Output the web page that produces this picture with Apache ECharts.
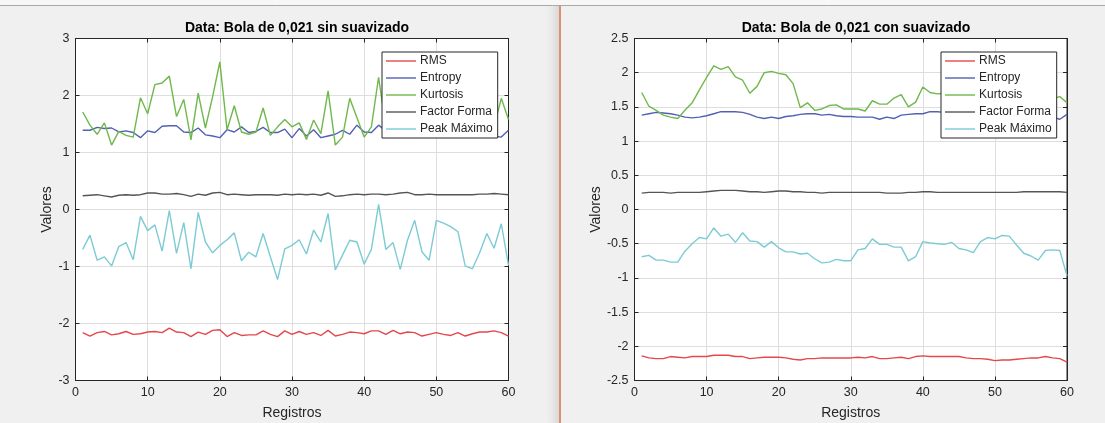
<!DOCTYPE html>
<html>
<head>
<meta charset="utf-8">
<script src="https://cdn.jsdelivr.net/npm/echarts@6/dist/echarts.min.js"></script>
<style>
html,body{margin:0;padding:0;background:#f0f0f0;}
#chart{width:1105px;height:423px;}
</style>
</head>
<body>
<div id="chart"></div>
<script>
// ---- data ----
const registros = [1,2,3,4,5,6,7,8,9,10,11,12,13,14,15,16,17,18,19,20,21,22,23,24,25,26,27,28,29,30,31,32,33,34,35,36,37,38,39,40,41,42,43,44,45,46,47,48,49,50,51,52,53,54,55,56,57,58,59,60];
const seriesNames = ['RMS','Entropy','Kurtosis','Factor Forma','Peak Máximo'];
const titleLeft = 'Data: Bola de 0,021 sin suavizado';
const titleRight = 'Data: Bola de 0,021 con suavizado';
const xName = 'Registros';
const yName = 'Valores';
const xTicks = [0,10,20,30,40,50,60];
const yTicksLeft = [-3,-2,-1,0,1,2,3];
const yTicksRight = [-2.5,-2,-1.5,-1,-0.5,0,0.5,1,1.5,2,2.5];

// sin suavizado
const rmsL = [-2.16,-2.22,-2.16,-2.14,-2.20,-2.18,-2.14,-2.19,-2.18,-2.15,
  -2.14,-2.16,-2.08,-2.15,-2.16,-2.23,-2.15,-2.19,-2.12,-2.11,
  -2.23,-2.16,-2.21,-2.20,-2.20,-2.13,-2.19,-2.23,-2.13,-2.19,
  -2.14,-2.19,-2.16,-2.21,-2.12,-2.22,-2.19,-2.15,-2.16,-2.18,
  -2.13,-2.13,-2.19,-2.12,-2.18,-2.15,-2.16,-2.22,-2.19,-2.16,
  -2.19,-2.21,-2.16,-2.22,-2.18,-2.15,-2.15,-2.13,-2.16,-2.22];
const entropyL = [1.39,1.39,1.44,1.42,1.43,1.36,1.38,1.35,1.26,1.38,
  1.35,1.46,1.47,1.47,1.36,1.35,1.43,1.31,1.29,1.26,
  1.40,1.36,1.45,1.35,1.37,1.44,1.35,1.35,1.41,1.26,
  1.42,1.29,1.40,1.26,1.29,1.32,1.39,1.32,1.48,1.36,
  1.35,1.48,1.38,1.42,1.33,1.37,1.44,1.36,1.40,1.45,
  1.35,1.39,1.42,1.34,1.38,1.41,1.36,1.29,1.27,1.39];
const kurtosisL = [1.71,1.48,1.32,1.52,1.13,1.37,1.30,1.27,1.96,1.68,
  2.19,2.22,2.34,1.63,1.93,1.22,2.04,1.43,1.98,2.59,
  1.40,1.82,1.36,1.32,1.36,1.78,1.30,1.45,1.58,1.45,
  1.52,1.23,1.57,1.33,2.08,1.13,1.27,1.95,1.61,1.27,
  1.45,2.32,1.45,1.62,1.38,1.85,1.50,1.40,1.72,1.35,
  1.55,1.48,1.90,1.42,1.60,1.38,1.70,1.45,1.95,1.58];
const factorL = [0.24,0.25,0.26,0.24,0.22,0.25,0.26,0.25,0.26,0.29,
  0.29,0.27,0.27,0.28,0.26,0.23,0.27,0.25,0.29,0.30,
  0.26,0.27,0.26,0.25,0.26,0.26,0.26,0.25,0.27,0.26,
  0.27,0.26,0.27,0.25,0.29,0.23,0.24,0.26,0.27,0.26,
  0.27,0.27,0.26,0.27,0.29,0.30,0.26,0.26,0.27,0.26,
  0.26,0.26,0.26,0.26,0.26,0.27,0.27,0.28,0.27,0.26];
const peakL = [-0.70,-0.45,-0.89,-0.83,-0.99,-0.65,-0.58,-0.88,-0.12,-0.37,
  -0.27,-0.73,-0.02,-0.77,-0.23,-1.04,-0.05,-0.57,-0.76,-0.63,
  -0.53,-0.41,-0.90,-0.75,-0.83,-0.42,-0.83,-1.23,-0.69,-0.63,
  -0.53,-0.78,-0.36,-0.57,-0.07,-1.06,-0.80,-0.54,-0.57,-0.96,
  -0.70,0.09,-0.70,-0.58,-1.05,-0.54,-0.19,-0.74,-0.89,-0.19,
  -0.24,-0.30,-0.39,-0.99,-1.04,-0.76,-0.42,-0.68,-0.25,-0.98];

// con suavizado
const rmsR = [-2.14,-2.17,-2.18,-2.18,-2.15,-2.16,-2.17,-2.15,-2.15,-2.15,
  -2.13,-2.13,-2.13,-2.15,-2.15,-2.18,-2.17,-2.16,-2.16,-2.16,
  -2.17,-2.19,-2.20,-2.18,-2.18,-2.17,-2.17,-2.17,-2.17,-2.17,
  -2.16,-2.17,-2.15,-2.18,-2.18,-2.17,-2.16,-2.18,-2.15,-2.14,
  -2.15,-2.15,-2.15,-2.15,-2.15,-2.17,-2.18,-2.18,-2.19,-2.21,
  -2.20,-2.20,-2.19,-2.18,-2.17,-2.17,-2.15,-2.17,-2.18,-2.23];
const entropyR = [1.38,1.40,1.42,1.41,1.40,1.38,1.35,1.34,1.35,1.37,
  1.40,1.43,1.43,1.43,1.42,1.39,1.35,1.33,1.35,1.33,
  1.36,1.37,1.39,1.40,1.40,1.38,1.39,1.37,1.36,1.36,
  1.35,1.35,1.35,1.32,1.35,1.33,1.38,1.39,1.40,1.40,
  1.43,1.43,1.42,1.42,1.41,1.41,1.42,1.41,1.40,1.40,
  1.40,1.39,1.39,1.38,1.38,1.37,1.36,1.35,1.32,1.39];
const kurtosisR = [1.71,1.51,1.45,1.38,1.35,1.33,1.45,1.56,1.75,1.93,
  2.10,2.05,2.09,1.94,1.89,1.70,1.80,2.00,2.02,1.99,
  1.97,1.84,1.49,1.56,1.45,1.47,1.52,1.53,1.47,1.47,
  1.47,1.44,1.59,1.54,1.54,1.63,1.68,1.50,1.57,1.79,
  1.71,1.69,1.70,1.68,1.72,1.66,1.64,1.70,1.75,1.72,
  1.68,1.66,1.70,1.73,1.68,1.62,1.60,1.62,1.65,1.56];
const factorR = [0.24,0.25,0.25,0.25,0.24,0.25,0.25,0.25,0.25,0.26,
  0.27,0.28,0.28,0.28,0.27,0.26,0.26,0.25,0.26,0.27,
  0.27,0.26,0.26,0.25,0.25,0.24,0.25,0.25,0.25,0.25,
  0.25,0.25,0.25,0.25,0.24,0.24,0.24,0.25,0.25,0.26,
  0.26,0.25,0.25,0.25,0.25,0.25,0.25,0.25,0.25,0.25,
  0.25,0.25,0.25,0.26,0.26,0.26,0.26,0.26,0.26,0.25];
const peakR = [-0.69,-0.67,-0.74,-0.74,-0.77,-0.77,-0.61,-0.50,-0.41,-0.43,
  -0.27,-0.39,-0.36,-0.48,-0.34,-0.46,-0.47,-0.55,-0.47,-0.56,
  -0.62,-0.62,-0.65,-0.64,-0.72,-0.78,-0.77,-0.73,-0.75,-0.75,
  -0.59,-0.57,-0.43,-0.51,-0.51,-0.55,-0.55,-0.75,-0.69,-0.47,
  -0.49,-0.50,-0.51,-0.48,-0.57,-0.59,-0.63,-0.47,-0.41,-0.43,
  -0.38,-0.39,-0.52,-0.64,-0.68,-0.74,-0.60,-0.59,-0.60,-0.97];

// ---- styling ----
const colors = ['#e5484a','#5260b3','#6fb84b','#555555','#7ccbd4'];
const FONT = 'Liberation Sans, Arial, sans-serif';
const TXT = '#262626';
const AX = '#262626';

const grids = [
  {left:75.5, top:38.5, width:433, height:342},
  {left:634.5, top:38.5, width:432.5, height:342}
];

function pairs(arr){ return registros.map((x,i)=>[x,arr[i]]); }

const leftData = [rmsL, entropyL, kurtosisL, factorL, peakL];
const rightData = [rmsR, entropyR, kurtosisR, factorR, peakR];

const option = {
  backgroundColor:'#f0f0f0',
  animation:false,
  textStyle:{fontFamily:FONT},
  title:[
    {text:titleLeft, left:292, top:16, textAlign:'center',
     textStyle:{fontSize:14,fontWeight:'bold',color:'#000',fontFamily:FONT}},
    {text:titleRight, left:851, top:16, textAlign:'center',
     textStyle:{fontSize:14,fontWeight:'bold',color:'#000',fontFamily:FONT}}
  ],
  grid: grids.map(g=>Object.assign({show:true, backgroundColor:'#ffffff', borderColor:AX, borderWidth:1, containLabel:false, outerBoundsMode:'none'}, g)),
  legend:[0,1].map(k=>({
    data:seriesNames,
    orient:'vertical',
    left: k===0 ? 382 : 941,
    top:52,
    icon:'rect',
    itemWidth:30,
    itemHeight:1.4,
    itemGap:5,
    backgroundColor:'#ffffff',
    borderColor:AX,
    borderWidth:1,
    borderRadius:0,
    padding:[3,5,3,4],
    selectedMode:false,
    textStyle:{fontSize:12,color:TXT,fontFamily:FONT,padding:[0,0,0,-1]}
  })),
  xAxis:[],
  yAxis:[],
  series:[],
  graphic:[
    {type:'rect', shape:{x:0,y:0,width:1105,height:5}, style:{fill:'#f7f7f7'}, z:-1, silent:true},
    {type:'line', shape:{x1:0,y1:5.5,x2:1105,y2:5.5}, style:{stroke:'#a8a8a8',lineWidth:1}, silent:true},
    {type:'rect', shape:{x:546,y:6,width:13,height:417},
     style:{fill:new echarts.graphic.LinearGradient(0,0,1,0,[{offset:0,color:'rgba(220,220,220,0)'},{offset:1,color:'rgba(205,205,205,0.7)'}])}, silent:true},
    {type:'line', shape:{x1:560,y1:6,x2:560,y2:423}, style:{stroke:'#d9703f',lineWidth:1.5}, silent:true}
  ]
};

[0,1].forEach(k=>{
  const yMin = k===0 ? yTicksLeft[0] : yTicksRight[0];
  const yMax = k===0 ? yTicksLeft[yTicksLeft.length-1] : yTicksRight[yTicksRight.length-1];
  const yInt = k===0 ? yTicksLeft[1]-yTicksLeft[0] : yTicksRight[1]-yTicksRight[0];
  const xInt = xTicks[1]-xTicks[0];
  option.xAxis.push({
    type:'value', gridIndex:k, position:'bottom', min:xTicks[0], max:xTicks[xTicks.length-1], interval:xInt,
    name:xName, nameLocation:'middle', nameGap:26,
    nameTextStyle:{fontSize:14,color:TXT,fontFamily:FONT},
    axisLine:{show:true,onZero:false,lineStyle:{color:AX,width:1}},
    axisTick:{show:true,inside:true,length:4,lineStyle:{color:AX}},
    axisLabel:{fontSize:12.5,color:TXT,margin:6,fontFamily:FONT},
    splitLine:{show:true,lineStyle:{color:'#dedede',width:1}}
  });
  option.xAxis.push({
    type:'value', gridIndex:k, position:'top', min:xTicks[0], max:xTicks[xTicks.length-1], interval:xInt,
    axisLine:{show:true,onZero:false,lineStyle:{color:AX,width:1}},
    axisTick:{show:true,inside:true,length:4,lineStyle:{color:AX}},
    axisLabel:{show:false}, splitLine:{show:false}
  });
  option.yAxis.push({
    type:'value', gridIndex:k, position:'left', min:yMin, max:yMax, interval:yInt,
    name:yName, nameLocation:'middle', nameGap: k===0 ? 20 : 29, nameRotate:90,
    nameTextStyle:{fontSize:14,color:TXT,fontFamily:FONT},
    axisLine:{show:true,onZero:false,lineStyle:{color:AX,width:1}},
    axisTick:{show:true,inside:true,length:4,lineStyle:{color:AX}},
    axisLabel:{fontSize:12.5,color:TXT,margin:6,fontFamily:FONT},
    splitLine:{show:true,lineStyle:{color:'#dedede',width:1}}
  });
  option.yAxis.push({
    type:'value', gridIndex:k, position:'right', min:yMin, max:yMax, interval:yInt,
    axisLine:{show:true,onZero:false,lineStyle:{color:AX,width:1}},
    axisTick:{show:true,inside:true,length:4,lineStyle:{color:AX}},
    axisLabel:{show:false}, splitLine:{show:false}
  });
  const dataSet = k===0 ? leftData : rightData;
  seriesNames.forEach((nm,i)=>{
    option.series.push({
      type:'line', name:nm, xAxisIndex:k*2, yAxisIndex:k*2,
      data:pairs(dataSet[i]),
      symbol:'none', showSymbol:false,
      lineStyle:{color:colors[i],width:1.4},
      itemStyle:{color:colors[i]},
      z: 2
    });
  });
});

const chart = echarts.init(document.getElementById('chart'), null, {renderer:'canvas'});
chart.setOption(option);
</script>
</body>
</html>
